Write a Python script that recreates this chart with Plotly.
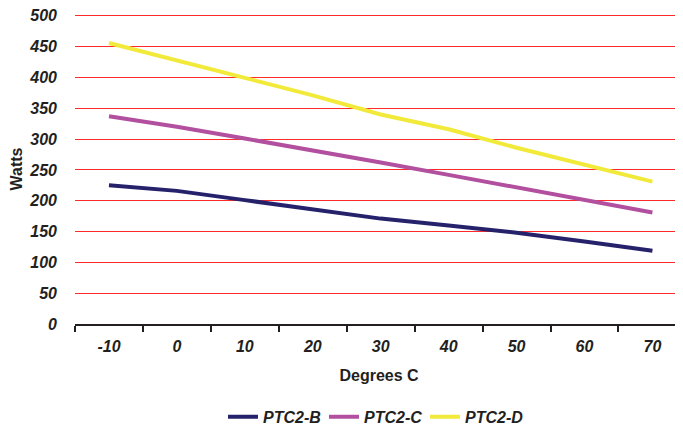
import plotly.graph_objects as go

categories = ["-10", "0", "10", "20", "30", "40", "50", "60", "70"]
ptc2_b = [225, 216, 201, 186, 171, 160, 148, 134, 119]
ptc2_c = [337, 320, 301, 282, 262, 242, 222, 201, 181]
ptc2_d = [456, 428, 400, 371, 340, 316, 286, 258, 231]
y_ticks = [0, 50, 100, 150, 200, 250, 300, 350, 400, 450, 500]

series = [
    ("PTC2-B", ptc2_b, "#25226b"),
    ("PTC2-C", ptc2_c, "#b2509f"),
    ("PTC2-D", ptc2_d, "#f2ea3a"),
]

fig = go.Figure()
for name, vals, color in series:
    fig.add_trace(go.Scatter(
        x=categories, y=vals, name=name, mode="lines",
        line=dict(color=color, width=4),
    ))

tick_font = dict(family="Liberation Sans, Arial, sans-serif", size=16, color="#231f20",
                 weight="bold", style="italic")
title_font = dict(family="Liberation Sans, Arial, sans-serif", size=16, color="#231f20",
                  weight="bold")

# page body adds an 8px offset, so the figure is 8px smaller than the window
fig.update_layout(
    width=675, height=418,
    margin=dict(l=67, r=0, t=6, b=102, autoexpand=False),
    paper_bgcolor="white", plot_bgcolor="white",
    showlegend=True,
    legend=dict(
        orientation="h", x=0.2434, xanchor="left",
        yref="container", y=0.022, yanchor="middle",
        font=dict(family="Liberation Sans, Arial, sans-serif", size=16, color="#231f20",
                  weight="bold", style="italic"),
        entrywidth=56, entrywidthmode="pixels",
        bgcolor="rgba(0,0,0,0)",
    ),
    xaxis=dict(
        type="category", range=[-0.5, 8.45], automargin=False,
        showgrid=False, showline=True, linecolor="#231f20", linewidth=1.5,
        ticks="outside", tickson="boundaries", ticklen=6, tickcolor="#231f20", tickwidth=1.5,
        tickfont=tick_font, ticklabelstandoff=7,
        title=dict(text="Degrees C", font=title_font, standoff=16),
        zeroline=False,
    ),
    yaxis=dict(
        range=[0, 503], tickvals=y_ticks, automargin=False,
        showgrid=True, gridcolor="#ff2a2a", gridwidth=1.3,
        zeroline=False, showline=False, ticklabeloverflow="allow",
        tickfont=tick_font, ticklabelstandoff=17,
        title=dict(text="Watts", font=title_font, standoff=3),
    ),
)

fig.write_html("out.html")
